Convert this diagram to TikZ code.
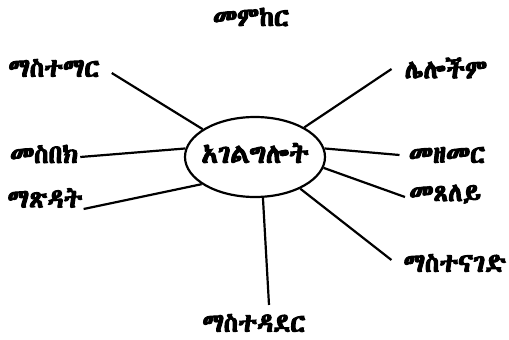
\documentclass[tikz,border=0pt]{standalone}
\usepackage{fontspec}
\IfFontExistsTF{Abyssinica SIL}{\newfontfamily\ethi[FakeBold=4]{Abyssinica SIL}}{%
 \IfFontExistsTF{FreeSerif}{\newfontfamily\ethi[FakeBold=4]{FreeSerif}}{%
  \IfFontExistsTF{FreeSans}{\newfontfamily\ethi[FakeBold=4]{FreeSans}}{%
   \newfontfamily\ethi{DejaVu Sans}}}}
\usetikzlibrary{shapes.geometric}
\begin{document}
\begin{tikzpicture}[x=1pt,y=-1pt,
  lbl/.style={inner sep=0pt,font=\ethi\fontsize{26}{28}\selectfont},
  conn/.style={line width=2.2pt}]
\useasboundingbox[fill=white] (0,0) rectangle (509,340);
\node[ellipse,draw,line width=2.2pt,minimum width=140pt,minimum height=80pt,inner sep=0pt] (c) at (255,157) {};
\node[inner sep=0pt,font=\ethi\fontsize{27}{29}\selectfont] (ct) at (255,153) {አገልግሎት};
\node[lbl] (top) at (251,17) {መምከር};
\node[lbl] (t1) at (54,68) {ማስተማር};
\node[lbl] (t2) at (44,154) {መስበክ};
\node[lbl] (t3) at (45,198) {ማጽዳት};
\node[lbl] (t4) at (446,68) {ሌሎችም};
\node[lbl] (t5) at (447,155) {መዘመር};
\node[lbl] (t6) at (445,194) {መጸለይ};
\node[lbl] (t7) at (455,263) {ማስተናገድ};
\node[lbl] (t8) at (254,323) {ማስተዳደር};
\draw[conn] ([shift={(12,5)}]t1.east) -- (c.152);
\draw[conn] ([shift={(2,3)}]t2.east) -- (c.173);
\draw[conn] ([shift={(1,11)}]t3.east) -- (c.207);
\draw[conn] ([shift={(-13,1)}]t4.west) -- (c.31);
\draw[conn] ([shift={(-9,0)}]t5.west) -- (c.7);
\draw[conn] ([shift={(-4,3)}]t6.west) -- (c.351);
\draw[conn] ([shift={(-12,-3)}]t7.west) -- (c.325);
\draw[conn] ([shift={(15,-9)}]t8.north) -- (c.281);
\end{tikzpicture}
\end{document}
